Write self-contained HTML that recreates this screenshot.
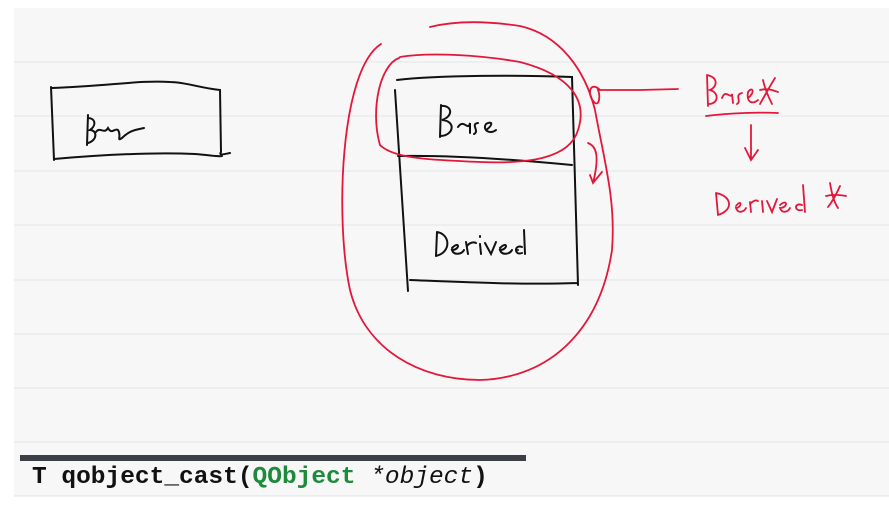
<!DOCTYPE html>
<html><head><meta charset="utf-8"><style>
html,body{margin:0;padding:0;background:#fff;width:889px;height:508px;overflow:hidden}
svg{position:absolute;left:0;top:0}
.code{position:absolute;left:32px;top:464px;font-family:"Liberation Mono",monospace;font-weight:bold;font-size:24.5px;color:#111;white-space:pre}
.code .g{color:#1e8a3c}.code i{font-weight:normal}
</style></head><body>
<svg width="889" height="508" viewBox="0 0 889 508">
<rect x="14" y="8" width="875" height="488" fill="#f7f7f7"/>
<g stroke="#e6e8ec" stroke-width="1.2">
<line x1="14" y1="62" x2="889" y2="62"/><line x1="14" y1="116" x2="889" y2="116"/>
<line x1="14" y1="171" x2="889" y2="171"/><line x1="14" y1="225" x2="889" y2="225"/>
<line x1="14" y1="280" x2="889" y2="280"/><line x1="14" y1="334" x2="889" y2="334"/>
<line x1="14" y1="388" x2="889" y2="388"/><line x1="14" y1="442" x2="889" y2="442"/>
</g>
<rect x="20" y="455" width="506" height="6" fill="#3a3f45"/>
<line x1="14" y1="496" x2="889" y2="496" stroke="#e2e2e2"/>
<g fill="none" stroke="#111" stroke-width="2" stroke-linecap="round">
<path d="M51 87 L54 160"/><path d="M52 88 C110 86 140 80 170 82 C185 82 200 88 220 90 L221 152 C218 156 225 154 230 153"/>
<path d="M54 159 C100 155 150 152 195 154 C210 155 218 157 222 156"/>
<path d="M88 115 L87 145 M88 118 C95 118 97 125 90 130 C97 130 98 140 88 143 M96 132 C100 126 104 135 108 128 C112 135 114 128 118 130 C122 136 116 142 122 138 C130 130 136 130 144 128"/>
<path d="M397 80 C440 75 520 75 572 77 L578 285 M395 90 L408 291 M410 280 C460 282 520 285 578 283 M398 156 C450 155 520 160 572 165"/>
<path d="M441 105 L440 137 M441 106 C452 105 454 116 442 120 C456 121 454 135 441 136 M458 127 C464 118 468 132 470 123 L470 133 M478 123 C470 124 480 131 474 134 M486 130 C492 126 494 120 486 124 C482 130 490 135 496 130"/>
<path d="M437 232 L436 256 M437 232 C450 234 452 252 436 256 M452 248 C460 240 460 250 452 250 C454 256 462 254 464 250 M466 242 L468 254 M467 246 C470 242 474 242 476 243 M480 244 L481 254 M480 236 L480 237 M485 243 L491 254 L496 242 M500 248 C508 240 508 250 500 250 C502 256 510 254 512 250 M522 247 C514 244 514 256 522 253 M524 230 L525 254 M518 250 L518 250"/>
</g>
<g fill="none" stroke="#e3173a" stroke-width="1.8" stroke-linecap="round">
<path d="M381 44 C340 70 335 220 350 290 C365 350 420 380 480 380 C550 378 600 330 612 250 C616 200 604 160 595 110 C585 70 560 35 520 26 C480 20 450 22 430 27"/>
<path d="M399 58 C380 65 370 110 380 145 C395 160 440 160 480 162 C530 164 570 158 578 130 C588 100 570 75 520 62 C480 55 430 52 400 57"/>
<path d="M600 90 C590 80 586 95 595 103 C600 106 600 94 598 90 L640 90 L678 89"/>
<path d="M588 143 C596 146 600 155 593 183 M590 175 L593 183 L602 172"/>
<path d="M707 75 L708 106 M707 75 C720 78 716 88 710 90 C720 93 718 104 709 104 M722 98 C726 88 730 100 732 94 L733 103 M742 93 C734 95 742 101 737 104 M748 98 C756 92 752 86 748 92 C746 104 754 104 758 100 M763 80 C765 90 770 100 772 104 M775 78 C770 86 765 95 760 104 M760 90 C768 88 772 90 778 92"/>
<path d="M706 116 C730 113 760 112 778 113"/>
<path d="M751 125 L751 160 M745 148 L751 160 L758 150"/>
<path d="M716 193 L718 215 M716 193 C732 196 734 210 718 215 M736 206 C742 198 742 208 736 208 C738 214 744 212 746 208 M750 202 L751 212 M750 204 C754 200 756 200 758 201 M762 201 L763 212 M767 201 L772 212 L777 199 M780 205 C788 198 788 208 780 208 C782 214 788 212 790 208 M802 205 C794 202 794 212 802 210 M803 185 L805 212 M830 183 C832 195 834 202 838 208 M840 186 C836 195 832 202 828 207 M826 196 C834 194 840 195 846 196"/>
</g>
</svg>
<div class="code">T qobject_cast(<span class="g">QObject</span> <i>*object</i>)</div>
</body></html>
